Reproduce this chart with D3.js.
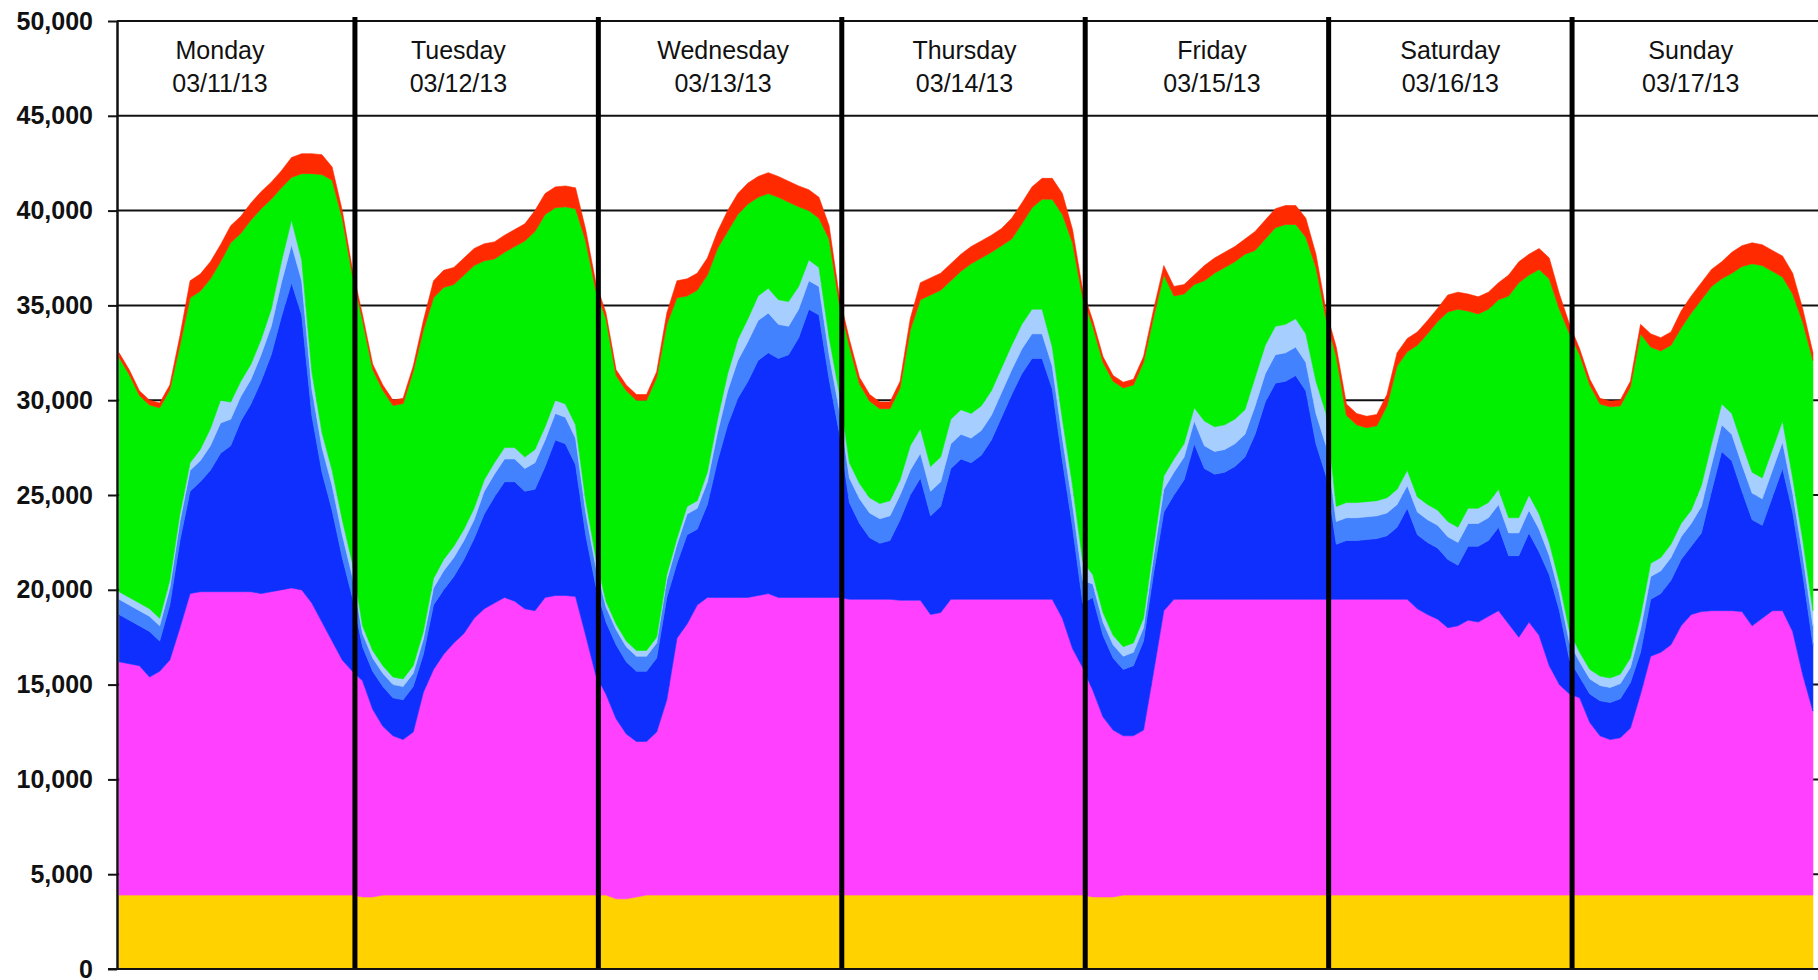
<!DOCTYPE html>
<html>
<head>
<meta charset="utf-8">
<script src="https://cdn.jsdelivr.net/npm/d3@7"></script>
<style>
  html, body { margin: 0; padding: 0; background: #fff; }
  svg { display: block; font-family: "Liberation Sans", Arial, sans-serif; }
</style>
</head>
<body>
<script>
// Day headers
const days = ["Monday", "Tuesday", "Wednesday", "Thursday", "Friday", "Saturday", "Sunday"];
const dates = ["03/11/13", "03/12/13", "03/13/13", "03/14/13", "03/15/13", "03/16/13", "03/17/13"];
const yTicks = [0, 5000, 10000, 15000, 20000, 25000, 30000, 35000, 40000, 45000, 50000];

// Hourly values, one row per day (Mon..Sun), bottom layer first
const gold = [
  3900,3900,3900,3900,3900,3900,3900,3900,3900,3900,3900,3900,3900,3900,3900,3900,3900,3900,3900,3900,3900,3900,3900,3900,
  3800,3800,3900,3900,3900,3900,3900,3900,3900,3900,3900,3900,3900,3900,3900,3900,3900,3900,3900,3900,3900,3900,3900,3900,
  3900,3700,3700,3800,3900,3900,3900,3900,3900,3900,3900,3900,3900,3900,3900,3900,3900,3900,3900,3900,3900,3900,3900,3900,
  3900,3900,3900,3900,3900,3900,3900,3900,3900,3900,3900,3900,3900,3900,3900,3900,3900,3900,3900,3900,3900,3900,3900,3900,
  3800,3800,3800,3900,3900,3900,3900,3900,3900,3900,3900,3900,3900,3900,3900,3900,3900,3900,3900,3900,3900,3900,3900,3900,
  3900,3900,3900,3900,3900,3900,3900,3900,3900,3900,3900,3900,3900,3900,3900,3900,3900,3900,3900,3900,3900,3900,3900,3900,
  3900,3900,3900,3900,3900,3900,3900,3900,3900,3900,3900,3900,3900,3900,3900,3900,3900,3900,3900,3900,3900,3900,3900,3900
];
const magenta = [
  12300,12200,12100,11500,11800,12400,14100,15900,16000,16000,16000,16000,16000,16000,15900,16000,16100,16200,16100,15400,14400,13400,12400,11800,
  11400,9900,8900,8400,8200,8600,10700,11900,12700,13300,13800,14600,15100,15400,15700,15500,15100,15000,15700,15800,15800,15750,13700,11600,
  10600,9500,8700,8200,8100,8600,10300,13550,14300,15300,15700,15700,15700,15700,15700,15800,15900,15700,15700,15700,15700,15700,15700,15700,
  15600,15600,15600,15600,15600,15550,15550,15550,14800,14900,15600,15600,15600,15600,15600,15600,15600,15600,15600,15600,15600,14600,13000,12000,
  10900,9500,8800,8400,8400,8700,11800,15000,15600,15600,15600,15600,15600,15600,15600,15600,15600,15600,15600,15600,15600,15600,15600,15600,
  15600,15600,15600,15600,15600,15600,15600,15600,15100,14800,14550,14100,14200,14500,14400,14700,15000,14300,13600,14400,13700,12100,11100,10600,
  10400,9100,8400,8200,8300,8800,10600,12600,12800,13200,14200,14800,14950,15000,15000,15000,14950,14200,14600,15000,15000,13900,11600,9700
];
const darkBlue = [
  2500,2300,2100,2400,1600,2900,4600,5400,5800,6400,7300,7700,9000,9900,11200,12500,14400,16100,14500,9900,7900,6900,5400,3900,
  1800,2000,2100,2000,2100,2400,2000,3400,3400,3500,3900,4200,5000,5600,6100,6300,6200,6400,6900,8200,8000,6950,5300,4700,
  3800,3900,3800,3700,3700,3900,5400,3950,4700,4000,4900,7200,9100,10500,11400,12400,12700,12600,12800,13700,15200,14900,11500,8700,
  5100,4000,3250,2950,3100,4250,5550,6450,5200,5600,6900,7400,7200,7600,8400,9600,10800,11900,12700,12700,11100,8300,6400,3400,
  4900,4300,3800,3500,3700,4700,5200,5200,5500,6300,8200,6900,6600,6700,7000,7500,8700,10400,11400,11500,11800,11000,8200,6500,
  2900,3100,3100,3150,3200,3350,3800,4800,3900,3800,3750,3600,3200,3900,4000,4000,4400,3600,4300,4700,4400,4800,3900,1800,
  1100,1500,1850,1950,2050,2400,2200,3000,3100,3400,3500,3600,4150,6300,8400,7900,6350,5600,4900,6000,7500,6300,5300,3500
];
const mediumBlue = [
  800,800,800,800,800,900,1000,1100,1100,1300,1600,1400,1300,1300,1400,1500,1800,2000,1800,1400,1300,1300,1200,1100,
  700,700,700,700,700,700,800,900,1000,1000,1000,1000,1200,1200,1200,1200,1200,1400,1400,1400,1400,1400,1200,1000,
  800,800,800,800,800,800,900,1000,1100,1100,1200,1500,1800,2000,2100,2100,2100,1800,1500,1500,1500,1500,1300,1200,
  1300,1300,1300,1300,1300,1300,1300,1300,1300,1300,1300,1300,1300,1300,1300,1300,1300,1300,1300,1300,1200,1200,1200,1200,
  700,700,700,700,700,700,900,1200,1200,1200,1200,1200,1200,1200,1200,1200,1500,1500,1500,1500,1500,1500,1600,1600,
  1200,1200,1200,1200,1200,1200,1200,1200,1200,1200,1200,1200,1200,1200,1200,1200,1200,1200,1200,1200,1200,1000,900,900,
  800,800,800,800,800,800,1200,1200,1200,1200,1200,1200,1400,1400,1400,1400,1400,1400,1400,1400,1400,1000,1000,1000
];
const lightBlue = [
  400,400,400,400,400,400,400,400,600,900,1200,900,800,800,800,900,1100,1300,1100,900,800,800,800,700,
  400,400,400,400,400,400,400,500,600,600,600,600,600,600,600,600,600,700,700,700,700,700,600,500,
  300,300,300,300,300,300,300,300,400,400,500,700,900,1100,1200,1300,1300,1300,1300,1200,1100,1000,900,900,
  800,800,800,800,800,800,1300,1300,1300,1300,1300,1300,1300,1300,1300,1300,1300,1300,1300,1300,1000,1000,1000,1000,
  500,500,500,500,500,500,500,700,700,700,700,1300,1300,1300,1300,1300,1500,1500,1500,1500,1500,1500,1700,1700,
  800,800,800,800,800,800,800,800,800,800,800,800,800,800,800,800,800,800,800,800,800,700,600,600,
  500,500,500,500,500,500,700,700,700,700,700,700,1100,1100,1100,1100,1100,1100,1100,1100,1100,800,800,800
];
const green = [
  12350,11750,10950,10750,11100,10050,8900,8700,8350,7900,7300,8400,7800,7600,6900,5800,3900,2250,4550,10450,13600,15300,15900,15200,
  16120,14820,14520,14320,14520,15520,15900,14800,14350,13800,13400,12800,11550,10750,10300,10600,11400,11500,11200,10150,10400,11400,13700,14100,
  14900,13100,13200,13200,13200,13700,13200,12700,11100,11100,10400,9000,7500,6600,6050,5200,5000,5400,5250,4200,2600,2600,5200,4700,
  6150,5250,5100,5000,4850,4850,6100,6800,9050,8800,7300,7300,7900,7800,7300,6450,5600,5300,5350,5800,7800,10800,12800,13900,
  13100,13200,13400,13650,13600,13500,12100,10600,8600,7900,6500,7400,8100,8300,8300,8200,6700,5600,5200,5270,4970,5100,6000,5000,
  7900,4600,4100,3900,3950,4850,6500,6250,8000,9000,9950,11050,11500,10400,10250,10200,10000,11700,12400,11600,12900,13900,14400,15700,
  15700,15000,14350,14300,14150,14300,14900,11400,10900,10500,10300,10400,9800,8300,6600,7400,9350,11000,11200,9400,7600,9700,11500,13200
];
const red = [
  250,250,250,250,250,250,500,900,900,900,900,900,900,900,900,900,900,1050,1050,1050,1050,700,400,300,
  280,280,280,280,280,280,500,900,900,900,900,900,900,900,900,900,900,1100,1100,1100,1100,1100,600,400,
  300,300,300,300,300,300,600,900,900,900,900,900,1100,1100,1100,1100,1100,1100,1100,1100,1100,1100,700,400,
  350,350,350,350,350,350,600,900,900,900,900,900,900,900,900,900,1100,1100,1100,1100,1100,1100,700,400,
  300,300,300,300,300,300,400,500,500,500,500,800,800,800,800,800,1000,1000,1000,1000,1000,1000,700,400,
  500,600,600,600,600,600,700,700,700,700,700,900,900,900,900,900,900,1100,1100,1100,1100,1100,800,500,
  300,300,300,300,300,300,500,700,700,700,900,900,900,900,900,1100,1100,1100,1100,1100,1100,1100,700,400
];

const width = 1818;
const height = 980;
const axisX = 117;

// hour (of the week) on which each day header is centred
const labelHours = [10.7, 34.2, 60.3, 84.1, 108.5, 132.0, 155.7];

const series = { gold, magenta, darkBlue, mediumBlue, lightBlue, green, red };
const keys = Object.keys(series);
const colors = {
  gold: "#ffd200",
  magenta: "#ff40ff",
  darkBlue: "#0f2fff",
  mediumBlue: "#4282ff",
  lightBlue: "#a6ceff",
  green: "#00f000",
  red: "#ff2a00"
};

// One row per hour
const rows = gold.map((_, i) => {
  const row = { hour: i + 0.75 };
  keys.forEach(k => row[k] = series[k][i]);
  return row;
});

const x = d3.scaleLinear().domain([0, 168]).range([111.5, 1815.5]);
const y = d3.scaleLinear().domain([0, 50000]).range([969, 21]);

const svg = d3.select("body").append("svg")
  .attr("width", width)
  .attr("height", height)
  .attr("viewBox", [0, 0, width, height]);

svg.append("rect").attr("width", width).attr("height", height).attr("fill", "#fff");

svg.append("defs").append("clipPath").attr("id", "plot")
  .append("rect")
  .attr("x", axisX + 1)
  .attr("y", 0)
  .attr("width", width - axisX)
  .attr("height", y(0));

// Horizontal grid lines (behind the areas)
svg.append("g")
  .selectAll("line")
  .data(yTicks.filter(d => d > 0))
  .join("line")
  .attr("x1", axisX)
  .attr("x2", width)
  .attr("y1", d => y(d))
  .attr("y2", d => y(d))
  .attr("stroke", "#111")
  .attr("stroke-width", 2);

// Stacked areas
const stacked = d3.stack().keys(keys)(rows);

const area = d3.area()
  .x(d => x(d.data.hour))
  .y0(d => y(d[0]))
  .y1(d => y(d[1]));

svg.append("g")
  .attr("clip-path", "url(#plot)")
  .selectAll("path")
  .data(stacked)
  .join("path")
  .attr("fill", d => colors[d.key])
  .attr("stroke", d => colors[d.key])
  .attr("stroke-width", 0.6)
  .attr("d", area);

// Day separators
svg.append("g")
  .selectAll("line")
  .data(days.slice(1).map((_, i) => (i + 1) * 24))
  .join("line")
  .attr("x1", d => x(d))
  .attr("x2", d => x(d))
  .attr("y1", y(50000) - 4)
  .attr("y2", y(0))
  .attr("stroke", "#000")
  .attr("stroke-width", 5);

// Day labels in the top band
const labels = svg.append("g")
  .attr("text-anchor", "middle")
  .attr("fill", "#111")
  .style("font-size", "25px");

labels.selectAll("text.day")
  .data(days)
  .join("text")
  .attr("class", "day")
  .attr("x", (d, i) => x(labelHours[i]))
  .attr("y", 59)
  .text(d => d);

labels.selectAll("text.date")
  .data(dates)
  .join("text")
  .attr("class", "date")
  .attr("x", (d, i) => x(labelHours[i]))
  .attr("y", 92)
  .text(d => d);

// Left axis
const yAxis = svg.append("g")
  .attr("transform", `translate(${axisX},0)`)
  .call(d3.axisLeft(y)
    .tickValues(yTicks)
    .tickSize(9)
    .tickSizeOuter(0)
    .tickPadding(15)
    .tickFormat(d3.format(",")));

yAxis.select(".domain").attr("stroke", "#111").attr("stroke-width", 2.5);
yAxis.selectAll(".tick line").attr("stroke", "#111").attr("stroke-width", 2);
yAxis.selectAll(".tick text")
  .attr("fill", "#111")
  .style("font-size", "25px")
  .style("font-weight", "bold")
  .style("font-family", "'Liberation Sans', Arial, sans-serif");

// Bottom baseline
svg.append("line")
  .attr("x1", axisX - 9)
  .attr("x2", width)
  .attr("y1", y(0))
  .attr("y2", y(0))
  .attr("stroke", "#111")
  .attr("stroke-width", 2);
</script>
</body>
</html>
